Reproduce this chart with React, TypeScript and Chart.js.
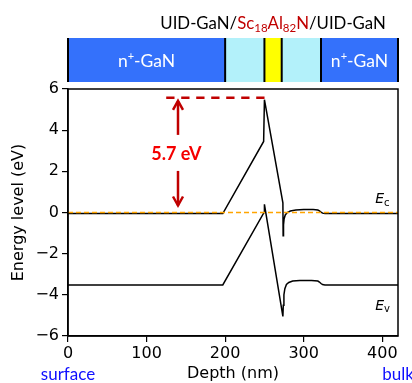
import React, { useEffect, useRef } from 'react';
import { Chart, registerables } from 'chart.js';

Chart.register(...registerables);

// ---------------- data ----------------
// Conduction band edge Ec (depth nm, energy eV)
const ecDepth = [0, 197, 249, 250, 273.5, 273.8, 274.3, 275, 276.5, 279, 283, 290, 300, 312, 318, 320, 322, 324, 327, 420];
const ecEnergy = [-0.05, -0.05, 3.45, 5.48, 0.47, -1.13, -0.6, -0.32, -0.12, 0.0, 0.07, 0.12, 0.14, 0.14, 0.12, 0.08, 0.02, -0.03, -0.05, -0.05];
// Valence band edge Ev
const evDepth = [0, 197, 249.5, 250, 273.5, 274, 274.8, 276, 278, 281, 286, 295, 310, 318, 320, 322, 324, 327, 420];
const evEnergy = [-3.52, -3.52, 0.0, 0.4, -5.05, -4.5, -4.0, -3.7, -3.5, -3.4, -3.33, -3.3, -3.3, -3.33, -3.38, -3.45, -3.5, -3.52, -3.52];
// Fermi level
const fermiDepth = [0, 420];
const fermiEnergy = [0, 0];
// Barrier height annotation
const gapLineDepth = [125, 252];
const gapLineEnergy = [5.58, 5.58];
const arrowDepth = 140;
const arrowTopTip = 5.42;
const arrowTopEnd = 3.77;
const arrowBottomStart = 2.02;
const arrowBottomTip = 0.34;
const gapLabel = '5.7 eV';
const gapLabelDepth = 138;
const gapLabelEnergy = 2.82;
// Layer stack
const layerBounds = [0, 200, 250, 272, 322, 420];
const layerLabels = ['n+-GaN', '', '', '', 'n+-GaN'];
// Axes
const xTicks = [0, 100, 200, 300, 400];
const yTicks = [-6, -4, -2, 0, 2, 4, 6];
const xTitle = 'Depth (nm)';
const yTitle = 'Energy level (eV)';
const leftNote = 'surface';
const rightNote = 'bulk';

// ---------------- styles ----------------
const layerColors = ['#3471fb', '#b3f1fa', '#ffff00', '#b3f1fa', '#3471fb'];
const DARK_RED = '#c00000';
const BRIGHT_RED = '#f50000';
const CAL = 'Lato, "Open Sans", sans-serif';
const DJ = '"DejaVu Sans", sans-serif';

function pts(xs: number[], ys: number[]) {
  return xs.map((v, i) => ({ x: v, y: ys[i] }));
}

function drawRuns(ctx: CanvasRenderingContext2D, runs: { t: string; c: string; size: number; dy: number; style?: string }[], cx: number, baseline: number) {
  let total = 0;
  const widths = runs.map((r) => {
    ctx.font = `${r.style || ''} ${r.size}px ${CAL}`;
    const w = ctx.measureText(r.t).width;
    total += w;
    return w;
  });
  let xx = cx - total / 2;
  ctx.textAlign = 'left';
  ctx.textBaseline = 'alphabetic';
  runs.forEach((r, i) => {
    ctx.font = `${r.style || ''} ${r.size}px ${CAL}`;
    ctx.fillStyle = r.c;
    ctx.fillText(r.t, xx, baseline + r.dy);
    xx += widths[i];
  });
}

const overlay = {
  id: 'overlay',
  afterDraw(chart: any) {
    const { ctx, chartArea: a, scales } = chart;
    const x = scales.x;
    const y = scales.y;
    ctx.save();
    // frame
    ctx.strokeStyle = '#000';
    ctx.lineWidth = 1.5;
    ctx.strokeRect(a.left, a.top, a.right - a.left, a.bottom - a.top);

    // layer bar
    const barTop = 38;
    const barBottom = 82;
    for (let i = 0; i < layerColors.length; i++) {
      const x0 = x.getPixelForValue(layerBounds[i]);
      const x1 = x.getPixelForValue(layerBounds[i + 1]);
      ctx.fillStyle = layerColors[i];
      ctx.fillRect(x0, barTop, x1 - x0, barBottom - barTop);
    }
    ctx.strokeStyle = '#000';
    ctx.lineWidth = 2;
    layerBounds.forEach((b) => {
      const px = x.getPixelForValue(b);
      ctx.beginPath();
      ctx.moveTo(px, barTop);
      ctx.lineTo(px, barBottom);
      ctx.stroke();
    });
    layerLabels.forEach((lab, i) => {
      if (!lab) return;
      const cx = (x.getPixelForValue(layerBounds[i]) + x.getPixelForValue(layerBounds[i + 1])) / 2;
      const [head, tail] = [lab.slice(0, 1), lab.slice(2)];
      drawRuns(ctx, [
        { t: head, c: '#fff', size: 17.5, dy: 0 },
        { t: '+', c: '#fff', size: 11, dy: -6.5 },
        { t: tail, c: '#fff', size: 17.5, dy: 0 },
      ], cx, 66.5);
    });

    // stack title centred on the barrier layer
    const tcx = (x.getPixelForValue(layerBounds[2]) + x.getPixelForValue(layerBounds[3])) / 2;
    drawRuns(ctx, [
      { t: 'UID-GaN/', c: '#000', size: 16.8, dy: 0 },
      { t: 'Sc', c: DARK_RED, size: 16.8, dy: 0 },
      { t: '18', c: DARK_RED, size: 11.5, dy: 3 },
      { t: 'Al', c: DARK_RED, size: 16.8, dy: 0 },
      { t: '82', c: DARK_RED, size: 11.5, dy: 3 },
      { t: 'N', c: DARK_RED, size: 16.8, dy: 0 },
      { t: '/UID-GaN', c: '#000', size: 16.8, dy: 0 },
    ], tcx, 28.5);

    // arrows
    const ax = x.getPixelForValue(arrowDepth);
    ctx.strokeStyle = DARK_RED;
    ctx.lineWidth = 2.5;
    ctx.lineJoin = 'miter';
    const seg = (y0: number, y1: number) => {
      ctx.beginPath();
      ctx.moveTo(ax, y.getPixelForValue(y0));
      ctx.lineTo(ax, y.getPixelForValue(y1));
      ctx.stroke();
    };
    seg(arrowTopTip, arrowTopEnd);
    seg(arrowBottomStart, arrowBottomTip);
    const head = (tipV: number, dir: number) => {
      const ty = y.getPixelForValue(tipV);
      ctx.beginPath();
      ctx.moveTo(ax - 5, ty + dir * 9);
      ctx.lineTo(ax, ty);
      ctx.lineTo(ax + 5, ty + dir * 9);
      ctx.stroke();
    };
    head(arrowTopTip, 1);
    head(arrowBottomTip, -1);

    ctx.fillStyle = BRIGHT_RED;
    ctx.font = `bold 18px ${CAL}`;
    ctx.textAlign = 'center';
    ctx.textBaseline = 'middle';
    ctx.fillText(gapLabel, x.getPixelForValue(gapLabelDepth), y.getPixelForValue(gapLabelEnergy));

    // band labels
    const lx = x.getPixelForValue(391);
    const bandLabel = (v: number, sub: string) => {
      const by = y.getPixelForValue(v);
      ctx.fillStyle = '#000';
      ctx.textAlign = 'left';
      ctx.textBaseline = 'alphabetic';
      ctx.font = `italic 14px ${DJ}`;
      ctx.fillText('E', lx, by);
      const w = ctx.measureText('E').width;
      ctx.font = `10px ${DJ}`;
      ctx.fillText(sub, lx + w, by + 2.5);
    };
    bandLabel(0.45, 'c');
    bandLabel(-4.72, 'v');

    // surface / bulk
    ctx.fillStyle = '#1010ff';
    ctx.font = `17px ${CAL}`;
    ctx.textAlign = 'center';
    ctx.textBaseline = 'alphabetic';
    ctx.fillText(leftNote, x.getPixelForValue(0), 380);
    ctx.fillText(rightNote, x.getPixelForValue(420), 380);
    ctx.restore();
  },
};

export default function App() {
  const ref = useRef<HTMLCanvasElement>(null);
  useEffect(() => {
    document.body.style.margin = '0';
    const canvas = ref.current!;
    const tickFont = { family: DJ, size: 16 };
    const chart = new Chart(canvas, {
      type: 'scatter',
      data: {
        datasets: [
          { data: pts(fermiDepth, fermiEnergy), showLine: true, borderColor: '#ffa500', borderWidth: 1.5, borderDash: [5, 3], pointRadius: 0 },
          { data: pts(gapLineDepth, gapLineEnergy), showLine: true, borderColor: DARK_RED, borderWidth: 2.5, borderDash: [8.3, 6.7], pointRadius: 0 },
          { data: pts(ecDepth, ecEnergy), showLine: true, borderColor: '#000', borderWidth: 1.5, pointRadius: 0, tension: 0 },
          { data: pts(evDepth, evEnergy), showLine: true, borderColor: '#000', borderWidth: 1.5, pointRadius: 0, tension: 0 },
        ],
      },
      options: {
        responsive: false,
        animation: false,
        devicePixelRatio: 1,
        layout: { padding: { top: 89, right: 14, left: 0, bottom: 0 } },
        plugins: { legend: { display: false }, tooltip: { enabled: false } },
        scales: {
          x: {
            type: 'linear',
            min: 0,
            max: 420,
            afterBuildTicks: (s: any) => { s.ticks = xTicks.map((v) => ({ value: v })); },
            afterFit: (s: any) => { s.height = 47; },
            grid: { drawOnChartArea: false, drawTicks: true, tickLength: 6, color: '#000', lineWidth: 1.2 },
            border: { display: true, color: '#000', width: 1.5 },
            ticks: { color: '#000', font: tickFont, padding: 2, maxRotation: 0, autoSkip: false },
            title: { display: true, text: xTitle, color: '#000', font: tickFont, padding: { top: 0, bottom: 0 } },
          },
          y: {
            type: 'linear',
            min: -6,
            max: 6,
            afterBuildTicks: (s: any) => { s.ticks = yTicks.map((v) => ({ value: v })); },
            afterFit: (s: any) => { s.width = 68; },
            grid: { drawOnChartArea: false, drawTicks: true, tickLength: 6, color: '#000', lineWidth: 1.2 },
            border: { display: true, color: '#000', width: 1.5 },
            ticks: { color: '#000', font: tickFont, padding: 3, autoSkip: false, callback: (v: any) => String(v).replace('-', '\u2212') },
            title: { display: true, text: yTitle, color: '#000', font: tickFont, padding: { top: 9, bottom: 0 } },
          },
        },
      },
      plugins: [overlay],
    });
    return () => chart.destroy();
  }, []);
  return <canvas ref={ref} width={412} height={383} style={{ display: 'block' }} />;
}
